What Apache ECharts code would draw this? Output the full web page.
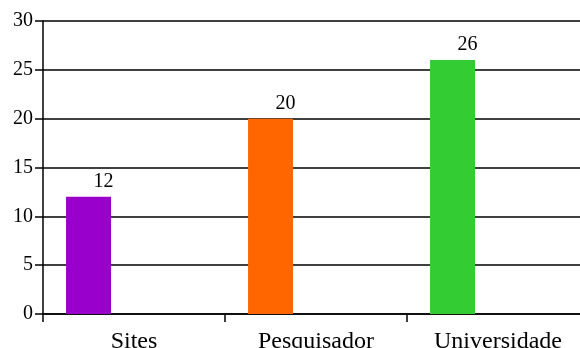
<!DOCTYPE html>
<html>
<head>
<meta charset="utf-8">
<script src="https://cdn.jsdelivr.net/npm/echarts@6/dist/echarts.min.js"></script>
<style>
  html, body { margin: 0; padding: 0; background: #fff; }
  #chart { width: 580px; height: 348px; }
</style>
</head>
<body>
<div id="chart"></div>
<script>
// Source counts per category
const categories = ['Sites', 'Pesquisador', 'Universidade'];
const values = [12, 20, 26];
const barColors = ['#9900CC', '#FF6600', '#33CC33'];
const yTicks = { min: 0, max: 30, step: 5 };

const serif = '"Liberation Serif", "Times New Roman", serif';
const chart = echarts.init(document.getElementById('chart'));

chart.setOption({
  animation: false,
  backgroundColor: '#fff',
  grid: {
    left: 43, top: 21, bottom: 34, width: 546,
    containLabel: false,
    outerBoundsMode: 'none'
  },
  xAxis: {
    type: 'category',
    data: categories,
    boundaryGap: true,
    axisLine: { lineStyle: { color: '#000', width: 1.5 } },
    axisTick: { show: true, length: 8, lineStyle: { color: '#000', width: 1.5 } },
    axisLabel: { color: '#000', fontFamily: serif, fontSize: 24, margin: 16 },
    splitLine: { show: false }
  },
  yAxis: {
    type: 'value',
    min: yTicks.min,
    max: yTicks.max,
    interval: yTicks.step,
    axisLine: { show: true, lineStyle: { color: '#000', width: 1.5 } },
    axisTick: { show: true, length: 8, lineStyle: { color: '#000', width: 1.5 } },
    axisLabel: { color: '#000', fontFamily: serif, fontSize: 20, margin: 10 },
    splitLine: { show: true, lineStyle: { color: '#000', width: 1.5 } }
  },
  series: [
    {
      type: 'bar',
      barWidth: 45,
      barGap: '102%',
      data: values.map((v, i) => ({ value: v, itemStyle: { color: barColors[i] } })),
      label: {
        show: true,
        position: 'top',
        distance: 5,
        offset: [15, 0],
        color: '#000',
        fontFamily: serif,
        fontSize: 20
      }
    },
    {
      // empty companion series keeps each bar on the left side of its slot
      type: 'bar',
      barWidth: 45,
      data: categories.map(() => null)
    }
  ]
});
</script>
</body>
</html>
